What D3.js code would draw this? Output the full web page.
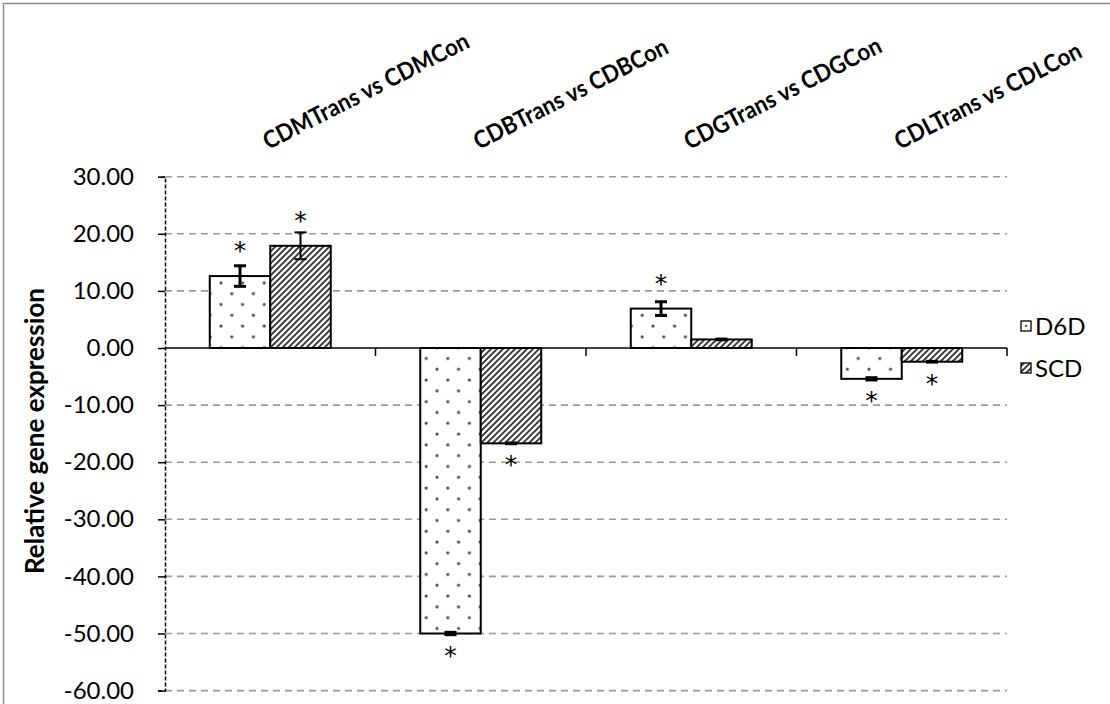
<!DOCTYPE html>
<html>
<head>
<meta charset="utf-8">
<script src="https://cdn.jsdelivr.net/npm/d3@7"></script>
<style>
  html, body { margin: 0; padding: 0; background: #fff; }
  svg { display: block; }
  text { font-family: Lato, "Open Sans", sans-serif; fill: #000; }
</style>
</head>
<body>
<svg id="chart" width="1110" height="704"></svg>
<script>
// Comparisons (categories) and the two genes plotted for each
const categories = ["CDMTrans vs CDMCon", "CDBTrans vs CDBCon", "CDGTrans vs CDGCon", "CDLTrans vs CDLCon"];
const seriesNames = ["D6D", "SCD"];

// Mean relative expression and error (±) per comparison
const d6dValues = [12.6, -50.0, 6.9, -5.4];
const d6dErrors = [1.8, 0.2, 1.2, 0.2];
const scdValues = [17.9, -16.7, 1.5, -2.4];
const scdErrors = [2.35, 0.15, 0.15, 0.15];

// Significance markers
const d6dSignificant = [true, true, true, true];
const scdSignificant = [true, true, false, true];

// Y axis ticks
const yTicks = [30, 20, 10, 0, -10, -20, -30, -40, -50, -60];

const svg = d3.select("#chart");
const W = 1110, H = 704;

// Outer chart frame
svg.append("rect")
  .attr("x", 3.5).attr("y", 3.5)
  .attr("width", W + 20).attr("height", H + 20)
  .attr("fill", "none").attr("stroke", "#8c8c8c").attr("stroke-width", 1.5);

const plot = { left: 165, right: 1007, top: 176.7, bottom: 690.6 };

const y = d3.scaleLinear().domain([-60, 30]).range([plot.bottom, plot.top]);
const x = d3.scaleBand().domain(categories).range([plot.left, plot.right]).paddingInner(0).paddingOuter(0);
const xs = d3.scaleBand().domain(seriesNames).range([0, x.bandwidth()]).paddingInner(0).paddingOuter(0.74);

// Patterns: dotted for D6D, diagonal hatch for SCD
const defs = svg.append("defs");
const dots = defs.append("pattern")
  .attr("id", "dots").attr("patternUnits", "userSpaceOnUse")
  .attr("width", 21.6).attr("height", 21.6).attr("x", 0).attr("y", 0);
dots.append("rect").attr("width", 21.6).attr("height", 21.6).attr("fill", "#fff");
dots.append("circle").attr("cx", 5).attr("cy", 2).attr("r", 1.6).attr("fill", "#4a4a4a");
dots.append("circle").attr("cx", 15.8).attr("cy", 12.8).attr("r", 1.6).attr("fill", "#4a4a4a");

const hatch = defs.append("pattern")
  .attr("id", "hatch").attr("patternUnits", "userSpaceOnUse")
  .attr("width", 6).attr("height", 6);
hatch.append("rect").attr("width", 6).attr("height", 6).attr("fill", "#fff");
hatch.append("path").attr("d", "M-1,7 L7,-1 M-1,1 L1,-1 M5,7 L7,5")
  .attr("stroke", "#333").attr("stroke-width", 1.9);

const legendDots = defs.append("pattern")
  .attr("id", "ldots").attr("patternUnits", "objectBoundingBox")
  .attr("width", 1).attr("height", 1);
legendDots.append("rect").attr("width", 11).attr("height", 11).attr("fill", "#fff");
legendDots.append("circle").attr("cx", 5).attr("cy", 5).attr("r", 1.2).attr("fill", "#555");

// Horizontal dashed gridlines
svg.append("g").selectAll("line")
  .data(yTicks.filter(d => d !== 0))
  .join("line")
  .attr("x1", plot.left).attr("x2", plot.right)
  .attr("y1", d => y(d)).attr("y2", d => y(d))
  .attr("stroke", "#9a9a9a").attr("stroke-width", 1.6)
  .attr("stroke-dasharray", "7,5");

// Y axis with tick labels (plain hyphen for negatives)
const fmt = d3.formatLocale({ decimal: ".", thousands: ",", grouping: [3], currency: ["", ""], minus: "-" }).format(".2f");
const yAxis = d3.axisLeft(y).tickValues(yTicks).tickFormat(fmt).tickSize(7).tickPadding(24);
const yg = svg.append("g").attr("transform", `translate(${plot.left},0)`).call(yAxis);
yg.select(".domain").attr("stroke", "#000").attr("stroke-width", 1.5).attr("stroke-dasharray", "4,2");
yg.selectAll(".tick line").attr("stroke", "#000").attr("stroke-width", 1.5);
yg.selectAll(".tick text").style("font-size", "24px").style("font-family", "Lato, sans-serif");

// Y axis title
svg.append("text")
  .attr("transform", `translate(44,431) rotate(-90)`)
  .attr("text-anchor", "middle")
  .style("font-size", "26px").style("font-weight", "bold")
  .text("Relative gene expression");

// Bars
const rows = categories.map((c, i) => ([
  { cat: c, key: "D6D", value: d6dValues[i], err: d6dErrors[i], sig: d6dSignificant[i] },
  { cat: c, key: "SCD", value: scdValues[i], err: scdErrors[i], sig: scdSignificant[i] }
])).flat();

const bars = svg.append("g");
bars.selectAll("rect")
  .data(rows)
  .join("rect")
  .attr("x", d => x(d.cat) + xs(d.key))
  .attr("width", xs.bandwidth())
  .attr("y", d => y(Math.max(0, d.value)))
  .attr("height", d => Math.abs(y(d.value) - y(0)))
  .attr("fill", d => d.key === "D6D" ? "url(#dots)" : "url(#hatch)")
  .attr("stroke", "#000").attr("stroke-width", 2);

// X axis along zero with category boundary ticks
const boundaries = categories.map(c => x(c) + x.bandwidth());
svg.append("line")
  .attr("x1", plot.left).attr("x2", plot.right)
  .attr("y1", y(0)).attr("y2", y(0))
  .attr("stroke", "#000").attr("stroke-width", 1.5);
svg.append("g").selectAll("line")
  .data(boundaries)
  .join("line")
  .attr("x1", d => d).attr("x2", d => d)
  .attr("y1", y(0)).attr("y2", y(0) + 8)
  .attr("stroke", "#000").attr("stroke-width", 1.5);

// Error bars
const errG = svg.append("g");
rows.forEach(d => {
  const cx = x(d.cat) + xs(d.key) + xs.bandwidth() / 2;
  const sw = d.key === "D6D" ? 3 : 2;
  const y1 = y(d.value + d.err), y2 = y(d.value - d.err);
  errG.append("line").attr("x1", cx).attr("x2", cx).attr("y1", y1).attr("y2", y2)
    .attr("stroke", "#000").attr("stroke-width", sw);
  [y1, y2].forEach(yy => errG.append("line")
    .attr("x1", cx - 6).attr("x2", cx + 6).attr("y1", yy).attr("y2", yy)
    .attr("stroke", "#000").attr("stroke-width", sw));
});

// Significance asterisks
svg.append("g").selectAll("text")
  .data(rows.filter(d => d.sig))
  .join("text")
  .attr("x", d => x(d.cat) + xs(d.key) + xs.bandwidth() / 2)
  .attr("y", d => d.value >= 0 ? y(d.value) - 17 : y(d.value) + 30)
  .attr("text-anchor", "middle")
  .style("font-family", "'DejaVu Sans', sans-serif")
  .style("font-size", "25px")
  .text("*");

// Category labels along the top, slanted
svg.append("g").selectAll("text")
  .data(categories)
  .join("text")
  .attr("transform", d => `translate(${x(d) + x.bandwidth() / 2 - 2},150) rotate(-27) scale(0.92,1)`)
  .attr("text-anchor", "start")
  .style("font-size", "24px").style("font-weight", "bold")
  .text(d => d);

// Legend
const legend = svg.append("g").attr("transform", "translate(1021,0)");
const legendRows = [
  { key: "D6D", fill: "url(#ldots)", yy: 326 },
  { key: "SCD", fill: "url(#hatch)", yy: 368 }
];
legendRows.forEach(r => {
  legend.append("rect").attr("x", 0).attr("y", r.yy - 5).attr("width", 10).attr("height", 10)
    .attr("fill", r.fill).attr("stroke", "#000").attr("stroke-width", 1.3);
  legend.append("text").attr("x", 14).attr("y", r.yy + 8.5)
    .style("font-size", "24px").text(r.key);
});
</script>
</body>
</html>
